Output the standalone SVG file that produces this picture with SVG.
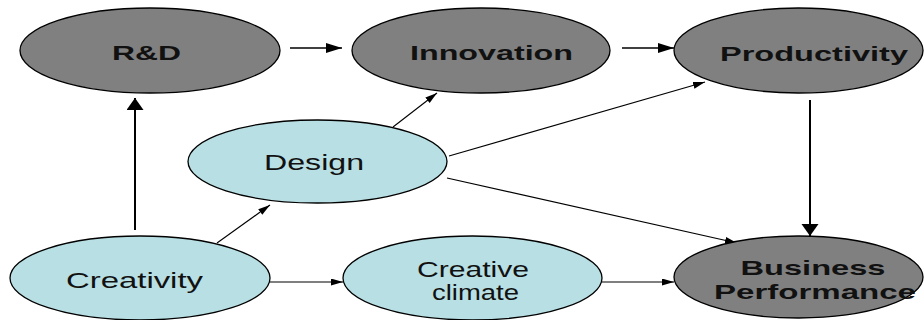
<svg xmlns="http://www.w3.org/2000/svg" width="924" height="320" viewBox="0 0 924 320">
  <style>
    .outcome ellipse { fill: #808080; stroke: #000; stroke-width: 1.3; }
    .driver ellipse { fill: #b8dfe3; stroke: #000; stroke-width: 1.3; }
    .outcome text { font-family: "Liberation Sans", Arial, sans-serif; font-weight: bold; font-size: 21px; fill: #111; text-anchor: middle; }
    .driver text { font-family: "Liberation Sans", Arial, sans-serif; font-size: 22px; fill: #111; text-anchor: middle; }
    .link { stroke: #000; fill: none; }
    .heavy { stroke-width: 1.4; }
    .vert { stroke-width: 2; }
    .thin { stroke-width: 1.1; }
  </style>
  <defs>
    <!-- long arrowhead for horizontal heavy links -->
    <marker id="headH" markerUnits="userSpaceOnUse" markerWidth="17" markerHeight="11" refX="16" refY="5" orient="auto">
      <path d="M0,0 L16,5 L0,10 z" fill="#000"/>
    </marker>
    <!-- wide arrowhead for vertical heavy links -->
    <marker id="headV" markerUnits="userSpaceOnUse" markerWidth="13" markerHeight="18" refX="12" refY="8.5" orient="auto">
      <path d="M0,0 L12,8.5 L0,17 z" fill="#000"/>
    </marker>
    <!-- small arrowhead for thin links -->
    <marker id="headS" markerUnits="userSpaceOnUse" markerWidth="13" markerHeight="8" refX="12" refY="3.5" orient="auto">
      <path d="M0,0 L12,3.5 L0,7 z" fill="#000"/>
    </marker>
  </defs>

  <rect width="924" height="320" fill="#fff"/>

  <g id="connectors">
    <line class="link heavy" x1="290" y1="48" x2="342" y2="48" marker-end="url(#headH)"/>
    <line class="link heavy" x1="622" y1="48" x2="674" y2="48" marker-end="url(#headH)"/>
    <line class="link vert" x1="135" y1="230" x2="135" y2="98" marker-end="url(#headV)"/>
    <line class="link vert" x1="810" y1="100" x2="810" y2="236" marker-end="url(#headV)"/>
    <line class="link thin" x1="217" y1="243" x2="270" y2="205" marker-end="url(#headS)"/>
    <line class="link thin" x1="393" y1="127" x2="437" y2="93" marker-end="url(#headS)"/>
    <line class="link thin" x1="449" y1="156" x2="705" y2="82" marker-end="url(#headS)"/>
    <line class="link thin" x1="447" y1="178" x2="737" y2="243" marker-end="url(#headS)"/>
    <line class="link thin" x1="270" y1="282" x2="343" y2="282" marker-end="url(#headS)"/>
    <line class="link thin" x1="602" y1="282" x2="674" y2="282" marker-end="url(#headS)"/>
  </g>

  <g id="rnd" class="outcome">
    <ellipse cx="150" cy="50.5" rx="130" ry="42.5"/>
    <text x="146.5" y="60" textLength="69" lengthAdjust="spacingAndGlyphs">R&amp;D</text>
  </g>
  <g id="innovation" class="outcome">
    <ellipse cx="481" cy="50.5" rx="129" ry="42.5"/>
    <text x="491.5" y="60" textLength="163" lengthAdjust="spacingAndGlyphs">Innovation</text>
  </g>
  <g id="productivity" class="outcome">
    <ellipse cx="798.5" cy="50.5" rx="124.5" ry="42.5"/>
    <text x="814" y="61" textLength="188" lengthAdjust="spacingAndGlyphs">Productivity</text>
  </g>
  <g id="design" class="driver">
    <ellipse cx="317.5" cy="161.5" rx="129.5" ry="41.5"/>
    <text x="314" y="170" textLength="100" lengthAdjust="spacingAndGlyphs">Design</text>
  </g>
  <g id="creativity" class="driver">
    <ellipse cx="140" cy="278" rx="130" ry="42"/>
    <text x="134.5" y="288" textLength="137" lengthAdjust="spacingAndGlyphs">Creativity</text>
  </g>
  <g id="creative-climate" class="driver">
    <ellipse cx="472.5" cy="278" rx="129.5" ry="42"/>
    <text x="473" y="277" textLength="112" lengthAdjust="spacingAndGlyphs">Creative</text>
    <text x="475.5" y="300" textLength="87" lengthAdjust="spacingAndGlyphs">climate</text>
  </g>
  <g id="business-performance" class="outcome">
    <ellipse cx="798.5" cy="277" rx="124.5" ry="41"/>
    <text x="813" y="275" textLength="145" lengthAdjust="spacingAndGlyphs">Business</text>
    <text x="815" y="299" textLength="202" lengthAdjust="spacingAndGlyphs">Performance</text>
  </g>
</svg>
